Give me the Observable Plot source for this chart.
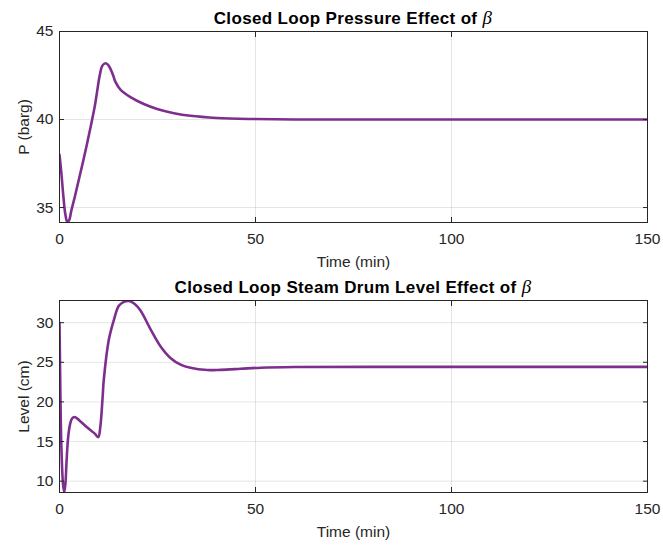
<!DOCTYPE html>
<html><head><meta charset="utf-8">
<script src="https://cdn.jsdelivr.net/npm/d3@7"></script>
<script src="https://cdn.jsdelivr.net/npm/@observablehq/plot@0.6"></script>
<style>body{margin:0;background:#fff} svg{display:block}</style>
</head><body><div id="chart"></div>
<script>
const timeP = [0,0.5,1,1.5,2,2.5,3,4,5,6,7,8,9,9.6,10.3,10.9,11.7,12.4,13,13.7,14.3,15.6,18.1,21.5,24.9,29.2,33.4,40.2,48.7,60,80,100,150];
const pressure = [38,36.9,35.6,34.6,34.17,34.3,34.8,35.7,36.65,37.6,38.6,39.65,40.75,41.6,42.55,43.05,43.2,43.1,42.88,42.5,42.12,41.68,41.27,40.88,40.6,40.36,40.21,40.09,40.03,40,40,40,40];
const timeL = [0,0.15,0.35,0.6,0.9,1.2,1.5,1.8,2.2,2.7,3.2,3.8,5,7,9,9.9,10.4,11,11.3,12.6,13.9,15.1,16.3,17.7,19.2,20.7,23.2,25.8,28.3,30.9,33.4,37.7,41.1,46.2,51.3,60,80,150];
const level = [30,24,17,12.5,9.6,8.6,9.6,12.5,15.5,17.2,17.9,18.1,17.7,16.8,16,15.56,16.8,20.6,22.8,27.9,30.4,32.1,32.6,32.75,32.35,31.5,29.2,27,25.55,24.7,24.3,24.02,24.05,24.18,24.32,24.41,24.42,24.42];
const xTicks = [0,50,100,150];
const pTicks = [35,40,45];
const lTicks = [10,15,20,25,30];
const xLabel = "Time (min)";
const pLabel = "P (barg)";
const lLabel = "Level (cm)";
const pTitle = "Closed Loop Pressure Effect of ";
const lTitle = "Closed Loop Steam Drum Level Effect of ";
const beta = "β";

function panel({t, v, yDomain, yTicks, yLabel, title, height, marginTop, marginBottom, titleY}) {
  const data = t.map((x, i) => ({x, y: v[i]}));
  const svg = Plot.plot({
    width: 663, height, marginLeft: 59, marginRight: 16, marginTop, marginBottom,
    style: {fontFamily: "'Liberation Sans', Arial, sans-serif", fontSize: "15.5px", color: "#262626", background: "#fff", overflow: "visible"},
    x: {domain: [0, 150]},
    y: {domain: yDomain},
    marks: [
      Plot.gridX(xTicks, {stroke: "#262626", strokeOpacity: 0.12}),
      Plot.gridY(yTicks, {stroke: "#262626", strokeOpacity: 0.12}),
      Plot.line(data, {x: "x", y: "y", stroke: "#7E2F8E", strokeWidth: 2.6, curve: "catmull-rom", clip: true}),
      Plot.frame({stroke: "#262626", strokeWidth: 1}),
      Plot.axisX(xTicks, {anchor: "bottom", tickSize: -5, tickFormat: () => "", label: null}),
      Plot.axisX(xTicks, {anchor: "top", tickSize: -5, tickFormat: () => "", label: null}),
      Plot.axisY(yTicks, {anchor: "left", tickSize: -5, tickFormat: () => "", label: null}),
      Plot.axisY(yTicks, {anchor: "right", tickSize: -5, tickFormat: () => "", label: null}),
      Plot.axisX(xTicks, {anchor: "bottom", tickSize: 0, tickPadding: 10, label: xLabel, labelAnchor: "center", labelArrow: "none", labelOffset: 44, fill: "#262626"}),
      Plot.axisY(yTicks, {anchor: "left", tickSize: 0, tickPadding: 6, label: yLabel, labelAnchor: "center", labelArrow: "none", labelOffset: 42, fill: "#262626"})
    ]
  });
  const tx = d3.select(svg).append("text")
    .attr("x", 353).attr("y", titleY)
    .attr("text-anchor", "middle")
    .attr("font-family", "'Liberation Sans', Arial, sans-serif")
    .attr("font-weight", "bold").attr("font-size", 17).attr("letter-spacing", 0.35).attr("fill", "#000");
  tx.append("tspan").text(title);
  tx.append("tspan").attr("font-family", "'Liberation Serif', serif").attr("font-style", "italic")
    .attr("font-weight", "normal").attr("font-size", 19).text(beta);
  return svg;
}

const root = document.getElementById("chart");
root.appendChild(panel({t: timeP, v: pressure, yDomain: [34.15, 45], yTicks: pTicks, yLabel: pLabel, title: pTitle, height: 272, marginTop: 31, marginBottom: 50, titleY: 24}));
root.appendChild(panel({t: timeL, v: level, yDomain: [8.57, 32.8], yTicks: lTicks, yLabel: lLabel, title: lTitle, height: 273, marginTop: 28, marginBottom: 53, titleY: 21}));
</script>
</body></html>
